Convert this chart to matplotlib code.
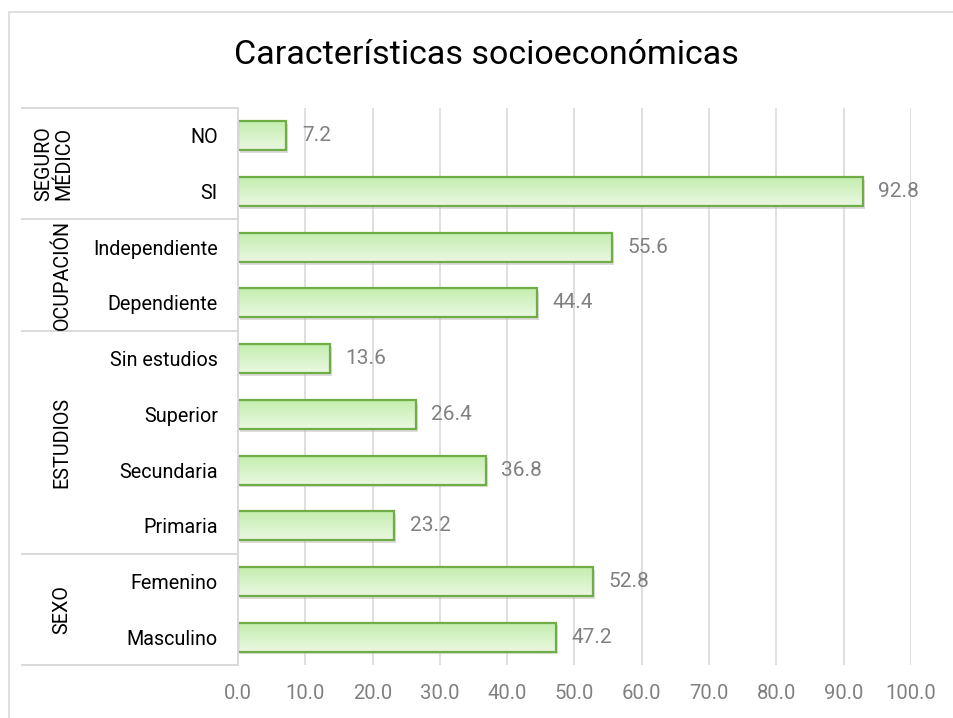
import matplotlib
matplotlib.use("Agg")
import matplotlib.pyplot as plt
import numpy as np
from matplotlib.patches import Rectangle
from matplotlib.transforms import blended_transform_factory
from matplotlib.colors import LinearSegmentedColormap

plt.rcParams['font.family'] = ['Roboto', 'DejaVu Sans']

title = "Características socioeconómicas"
categories = ["Masculino", "Femenino", "Primaria", "Secundaria", "Superior",
              "Sin estudios", "Dependiente", "Independiente", "SI", "NO"]
values = [47.2, 52.8, 23.2, 36.8, 26.4, 13.6, 44.4, 55.6, 92.8, 7.2]
groups = ["SEXO", "ESTUDIOS", "OCUPACIÓN", "SEGURO\nMÉDICO"]
group_sizes = [2, 4, 2, 2]
xticks = [0, 10, 20, 30, 40, 50, 60, 70, 80, 90, 100]

W, H = 954, 718
fig = plt.figure(figsize=(W / 100, H / 100), dpi=100)
fig.patch.set_facecolor("white")

# chart border
fig.add_artist(Rectangle((9 / W, -0.01), (W - 9) / W + 0.01, 1 - 12 / H + 0.01,
                         transform=fig.transFigure, fill=False,
                         edgecolor="#D9D9D9", lw=1.2))

left, right, top, bottom = 238, 911, 108, 665
ax = fig.add_axes([left / W, 1 - bottom / H, (right - left) / W, (bottom - top) / H])
for s in ax.spines.values():
    s.set_visible(False)

for xt in xticks:
    ax.axvline(xt, color="#D9D9D9", lw=1.2, zorder=0)

grad = np.linspace(0, 1, 64).reshape(-1, 1)
cmap = LinearSegmentedColormap.from_list("g", ["#EAF8E2", "#C4EEAE"])
bh = 0.52
ypos = np.arange(len(categories))
for y, v in zip(ypos, values):
    ax.add_patch(Rectangle((0.3, y - bh / 2 - 0.05), v, bh, facecolor="#BBBBBB",
                           edgecolor="none", alpha=0.5, zorder=1))
    im = ax.imshow(grad, cmap=cmap, aspect="auto",
                   extent=(0, v, y + bh / 2, y - bh / 2), zorder=2,
                   origin="upper")
    r = Rectangle((0, y - bh / 2), v, bh, facecolor="none",
                  edgecolor="#70AD47", lw=1.6, zorder=3)
    ax.add_patch(r)
    im.set_clip_path(r)
    ax.text(v + 2.3, y, f"{v:.1f}", va="center", ha="left",
            fontsize=15, color="#808080")
ax.set_ylim(-0.5, len(categories) - 0.5)
ax.set_xlim(0, 100)

ax.set_xticks(xticks)
ax.set_xticklabels([f"{t:.1f}" for t in xticks], fontsize=14.6, color="#808080")
ax.tick_params(axis="x", length=0, pad=14)
ax.set_yticks(ypos)
ax.set_yticklabels(categories, fontsize=14.2, color="#000000")
ax.tick_params(axis="y", length=0, pad=14.5)

# multi-level category axis lines
tr = blended_transform_factory(ax.transAxes, ax.transData)
x0 = (22 - left) / (right - left)
ax.plot([0, 0], [-0.5, len(categories) - 0.5], transform=tr, color="#D9D9D9",
        lw=1.4, clip_on=False, zorder=4)
bounds = np.concatenate([[0], np.cumsum(group_sizes)]) - 0.5
for b in bounds:
    ax.plot([x0, 0], [b, b], transform=tr, color="#D9D9D9", lw=1.4, clip_on=False)
gx = (62 - left) / (right - left)
for g, lo, hi in zip(groups, bounds[:-1], bounds[1:]):
    xx = gx if "\n" not in g else (54 - left) / (right - left)
    ax.text(xx, (lo + hi) / 2, g, transform=tr, rotation=90, ha="center",
            va="center", fontsize=14.2, color="#000000", linespacing=1.05,
            multialignment="center")

fig.text(486 / W, 1 - 55 / H, title, ha="center", va="center", fontsize=24.5,
         fontweight="normal", color="#000000")

fig.savefig("out.png", dpi=100, facecolor="white")
